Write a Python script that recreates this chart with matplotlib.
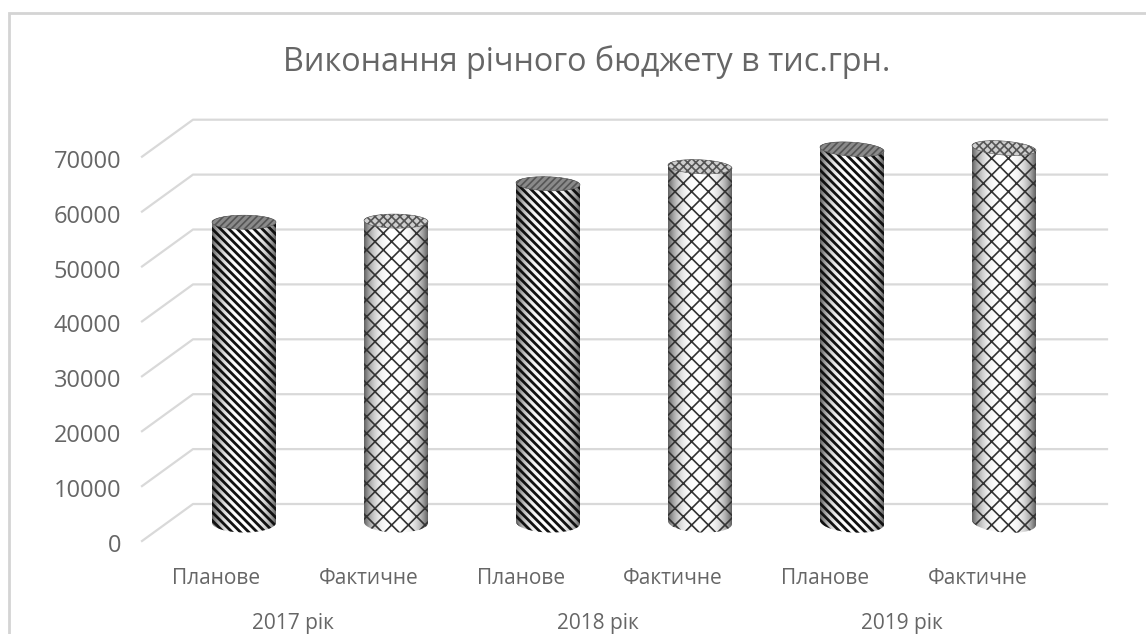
import numpy as np
import matplotlib
matplotlib.use("Agg")
import matplotlib.pyplot as plt
from matplotlib.path import Path
from matplotlib.patches import PathPatch

plt.rcParams['font.family'] = ['Open Sans', 'DejaVu Sans']

title = "Виконання річного бюджету в тис.грн."
years = ["2017 рік", "2018 рік", "2019 рік"]
bar_labels = ["Планове", "Фактичне", "Планове", "Фактичне", "Планове", "Фактичне"]
values = [54700, 54900, 61700, 64800, 68000, 68200]
y_ticks = [0, 10000, 20000, 30000, 40000, 50000, 60000, 70000]

W, H = 1146, 634
x0_px, dx_px = 244.0, 152.0   # pixel x of the first cylinder, pixels per bar
y0_px, k_px = 522.5, 54.9 / 10000   # pixel y of value 0 on the middle plane, pixels per unit
depth_px = 18.5
text_col = "#666666"
grid_col = "#d9d9d9"


def px_x(p):
    return (np.asarray(p, dtype=float) - x0_px) / dx_px


def px_h(p):
    return np.asarray(p, dtype=float) / k_px


fig = plt.figure(figsize=(W / 100, H / 100), dpi=100)
ax = fig.add_axes([0, 0, 1, 1])
ax.axis("off")

# chart frame, open on the right and at the bottom
ax.plot(px_x([9, 9, W]), [px_h(y0_px - H), px_h(y0_px - 13), px_h(y0_px - 13)],
        color="#d4d4d4", lw=2, solid_joinstyle="miter")

# gridlines: slanted floor/wall part and back wall part
for v in y_ticks:
    front = v - px_h(depth_px)
    back = v + px_h(depth_px)
    ax.plot(px_x([142, 193, 1107]), [front, back, back], color=grid_col, lw=1.6,
            solid_joinstyle="round", zorder=1)
    ax.text(float(px_x(121)), front - px_h(5), str(v), ha="right", va="center",
            fontsize=17, color=text_col)

half_w = 32 / dx_px
t = np.linspace(0, np.pi, 60)
grad = 1 - 0.62 * np.abs(np.linspace(-1, 1, 128)) ** 3
grad = grad[None, :]

for i, val in enumerate(values):
    planned = i % 2 == 0
    tilt = px_h(0.5 * i)
    h_top = px_h(7)
    h_bot = px_h(10)
    cx = np.cos(t) * half_w + i
    # body outline: front arc of the bottom, then back arc of the top
    bot_y = -np.sin(t) * h_bot - np.cos(t) * tilt
    top_y = val + np.sin(t) * h_top - np.cos(t) * tilt
    xs = np.r_[cx[::-1], cx]
    ys = np.r_[bot_y[::-1], top_y]
    path = Path(np.c_[xs, ys])

    im = ax.imshow(grad, extent=[i - half_w, i + half_w, -h_bot - tilt, val + h_top + tilt],
                   cmap="gray", vmin=0, vmax=1, aspect="auto", zorder=3)
    body_clip = PathPatch(path, transform=ax.transData, fc="none", ec="none")
    ax.add_patch(body_clip)
    im.set_clip_path(body_clip)

    plt.rcParams['hatch.linewidth'] = 2.0 if planned else 1.2
    ax.add_patch(PathPatch(path, fc="none", ec="#111111" if planned else "#333333", lw=0,
                           hatch="\\" * 4 if planned else "xx", zorder=4))

    # lid of the cylinder
    a = np.linspace(0, 2 * np.pi, 120)
    lid = Path(np.c_[np.cos(a) * half_w + i, val + np.sin(a) * h_top - np.cos(a) * tilt])
    plt.rcParams['hatch.linewidth'] = 1.2
    ax.add_patch(PathPatch(lid, fc="#8a8a8a" if planned else "#cfcfcf", ec="#555555", lw=0.4,
                           hatch="/" * 5 if planned else "xxxx", zorder=5))

    ax.text(float(px_x(216.5 + 152.2 * i)), px_h(y0_px - 579), bar_labels[i], ha="center",
            va="center", fontsize=15, color=text_col)

for j, name in enumerate(years):
    ax.text(float(px_x(293 + 304.5 * j)), px_h(y0_px - 623), name, ha="center", va="center",
            fontsize=15, color=text_col)

ax.text(float(px_x(587)), px_h(y0_px - 62), title, ha="center", va="center", fontsize=23.3,
        color=text_col)

ax.set_xlim(float(px_x(0)), float(px_x(W)))
ax.set_ylim((y0_px - H) / k_px, y0_px / k_px)
fig.savefig("out.png", dpi=100)
